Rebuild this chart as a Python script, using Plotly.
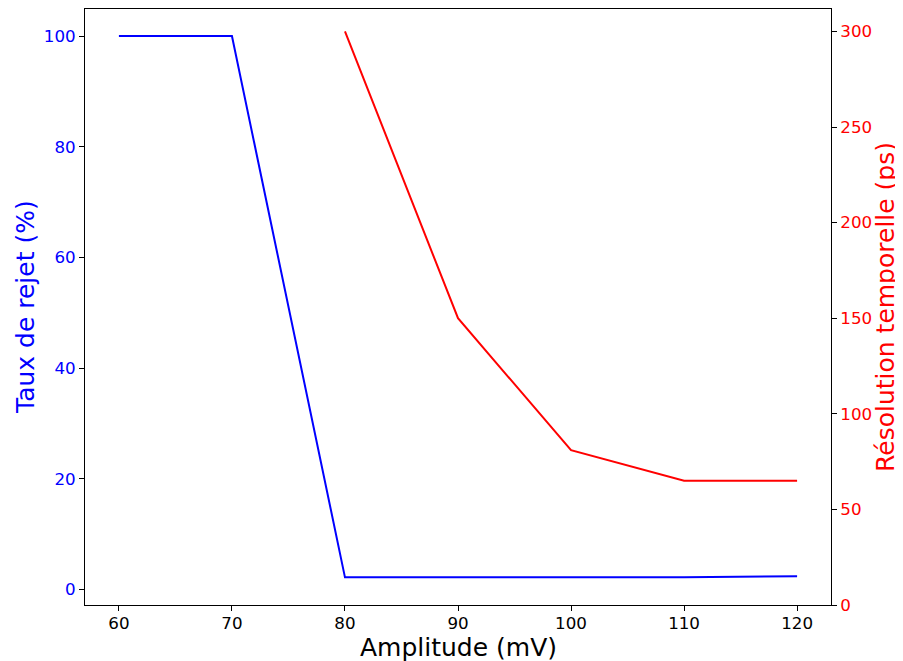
import plotly.graph_objects as go

amplitude = [60, 70, 80, 90, 100, 110, 120]
taux_rejet = [100, 100, 2.2, 2.2, 2.1, 2.2, 2.4]
amp_res = [80, 90, 100, 110, 120]
resolution = [300, 150, 81, 65, 65]

FONT = "DejaVu Sans"
TICK = 16.7
TITLE = 25

fig = go.Figure()
fig.add_trace(go.Scatter(x=amplitude, y=taux_rejet, mode="lines",
                         line=dict(color="#0000ff", width=2), yaxis="y", showlegend=False))
fig.add_trace(go.Scatter(x=amp_res, y=resolution, mode="lines",
                         line=dict(color="#ff0000", width=2), yaxis="y2", showlegend=False))

axis_common = dict(showgrid=False, zeroline=False, showline=True, linecolor="black",
                   linewidth=1, ticks="outside", ticklen=5, tickwidth=1, tickcolor="black",
                   automargin=False)

fig.update_layout(
    width=895, height=653,
    margin=dict(l=77, r=72, t=1, b=56),
    paper_bgcolor="white", plot_bgcolor="white",
    font=dict(family=FONT, size=TICK, color="black"),
    xaxis=dict(**axis_common, range=[57, 123], tickvals=[60, 70, 80, 90, 100, 110, 120],
               mirror=True, ticklabelstandoff=-2, tickfont=dict(size=TICK, color="black")),
    yaxis=dict(**axis_common, range=[-2.8, 104.9], tickvals=[0, 20, 40, 60, 80, 100],
               tickfont=dict(size=TICK, color="#0000ff")),
    yaxis2=dict(**axis_common, range=[0, 311.75], overlaying="y", side="right",
                tickvals=[0, 50, 100, 150, 200, 250, 300],
                tickfont=dict(size=TICK, color="#ff0000")),
    annotations=[
        dict(text="Amplitude (mV)", xref="paper", yref="paper", x=0.5, y=0,
             xanchor="center", yanchor="middle", yshift=-42, showarrow=False,
             font=dict(size=TITLE, color="black")),
        dict(text="Taux de rejet (%)", xref="paper", yref="paper", x=0, y=0.5,
             xanchor="center", yanchor="middle", xshift=-60, textangle=-90, showarrow=False,
             font=dict(size=TITLE, color="#0000ff")),
        dict(text="Résolution temporelle (ps)", xref="paper", yref="paper", x=1, y=0.5,
             xanchor="center", yanchor="middle", xshift=54, textangle=-90, showarrow=False,
             font=dict(size=TITLE, color="#ff0000")),
    ],
)

fig.write_html("out.html")
